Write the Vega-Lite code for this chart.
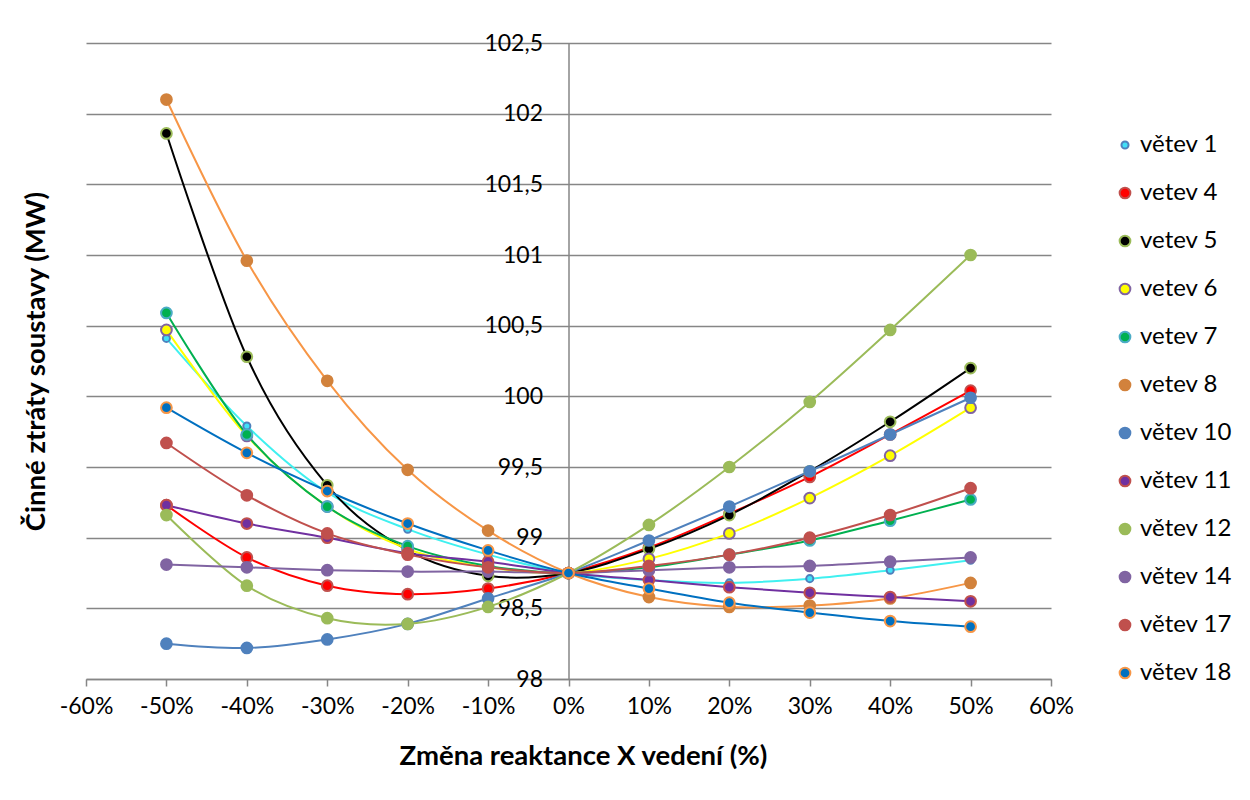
{
  "$schema": "https://vega.github.io/schema/vega-lite/v6.json",
  "width": 965,
  "height": 636,
  "autosize": {"type": "none"},
  "padding": {"left": 86, "top": 43, "right": 199, "bottom": 121},
  "background": "white",
  "config": {"view": {"stroke": null}, "font": "Lato",
    "legend": {"orient": "none", "legendX": 1027, "legendY": 90, "padding": 0, "title": null, "labelFontSize": 24, "labelColor": "black", "rowPadding": 24, "symbolStrokeWidth": 2, "labelOffset": 3}},
  "data": {"values": [
    {"s":"větev 1","x":-50,"y":100.41},{"s":"větev 1","x":-40,"y":99.79},{"s":"větev 1","x":-30,"y":99.32},{"s":"větev 1","x":-20,"y":99.06},{"s":"větev 1","x":-10,"y":98.88},{"s":"větev 1","x":0,"y":98.75},{"s":"větev 1","x":10,"y":98.70},{"s":"větev 1","x":20,"y":98.68},{"s":"větev 1","x":30,"y":98.71},{"s":"větev 1","x":40,"y":98.77},{"s":"větev 1","x":50,"y":98.84},
    {"s":"vetev 4","x":-50,"y":99.23},{"s":"vetev 4","x":-40,"y":98.86},{"s":"vetev 4","x":-30,"y":98.66},{"s":"vetev 4","x":-20,"y":98.60},{"s":"vetev 4","x":-10,"y":98.64},{"s":"vetev 4","x":0,"y":98.75},{"s":"vetev 4","x":10,"y":98.93},{"s":"vetev 4","x":20,"y":99.17},{"s":"vetev 4","x":30,"y":99.43},{"s":"vetev 4","x":40,"y":99.73},{"s":"vetev 4","x":50,"y":100.04},
    {"s":"vetev 5","x":-50,"y":101.86},{"s":"vetev 5","x":-40,"y":100.28},{"s":"vetev 5","x":-30,"y":99.37},{"s":"vetev 5","x":-20,"y":98.91},{"s":"vetev 5","x":-10,"y":98.73},{"s":"vetev 5","x":0,"y":98.75},{"s":"vetev 5","x":10,"y":98.92},{"s":"vetev 5","x":20,"y":99.16},{"s":"vetev 5","x":30,"y":99.47},{"s":"vetev 5","x":40,"y":99.82},{"s":"vetev 5","x":50,"y":100.20},
    {"s":"vetev 6","x":-50,"y":100.47},{"s":"vetev 6","x":-40,"y":99.72},{"s":"vetev 6","x":-30,"y":99.22},{"s":"vetev 6","x":-20,"y":98.92},{"s":"vetev 6","x":-10,"y":98.79},{"s":"vetev 6","x":0,"y":98.75},{"s":"vetev 6","x":10,"y":98.85},{"s":"vetev 6","x":20,"y":99.03},{"s":"vetev 6","x":30,"y":99.28},{"s":"vetev 6","x":40,"y":99.58},{"s":"vetev 6","x":50,"y":99.92},
    {"s":"vetev 7","x":-50,"y":100.59},{"s":"vetev 7","x":-40,"y":99.73},{"s":"vetev 7","x":-30,"y":99.22},{"s":"vetev 7","x":-20,"y":98.94},{"s":"vetev 7","x":-10,"y":98.80},{"s":"vetev 7","x":0,"y":98.75},{"s":"vetev 7","x":10,"y":98.79},{"s":"vetev 7","x":20,"y":98.88},{"s":"vetev 7","x":30,"y":98.98},{"s":"vetev 7","x":40,"y":99.12},{"s":"vetev 7","x":50,"y":99.27},
    {"s":"vetev 8","x":-50,"y":102.10},{"s":"vetev 8","x":-40,"y":100.96},{"s":"vetev 8","x":-30,"y":100.11},{"s":"vetev 8","x":-20,"y":99.48},{"s":"vetev 8","x":-10,"y":99.05},{"s":"vetev 8","x":0,"y":98.75},{"s":"vetev 8","x":10,"y":98.58},{"s":"vetev 8","x":20,"y":98.51},{"s":"vetev 8","x":30,"y":98.52},{"s":"vetev 8","x":40,"y":98.57},{"s":"vetev 8","x":50,"y":98.68},
    {"s":"větev 10","x":-50,"y":98.25},{"s":"větev 10","x":-40,"y":98.22},{"s":"větev 10","x":-30,"y":98.28},{"s":"větev 10","x":-20,"y":98.39},{"s":"větev 10","x":-10,"y":98.57},{"s":"větev 10","x":0,"y":98.75},{"s":"větev 10","x":10,"y":98.98},{"s":"větev 10","x":20,"y":99.22},{"s":"větev 10","x":30,"y":99.47},{"s":"větev 10","x":40,"y":99.73},{"s":"větev 10","x":50,"y":99.99},
    {"s":"větev 11","x":-50,"y":99.23},{"s":"větev 11","x":-40,"y":99.10},{"s":"větev 11","x":-30,"y":99.00},{"s":"větev 11","x":-20,"y":98.89},{"s":"větev 11","x":-10,"y":98.83},{"s":"větev 11","x":0,"y":98.75},{"s":"větev 11","x":10,"y":98.70},{"s":"větev 11","x":20,"y":98.65},{"s":"větev 11","x":30,"y":98.61},{"s":"větev 11","x":40,"y":98.58},{"s":"větev 11","x":50,"y":98.55},
    {"s":"větev 12","x":-50,"y":99.16},{"s":"větev 12","x":-40,"y":98.66},{"s":"větev 12","x":-30,"y":98.43},{"s":"větev 12","x":-20,"y":98.39},{"s":"větev 12","x":-10,"y":98.51},{"s":"větev 12","x":0,"y":98.75},{"s":"větev 12","x":10,"y":99.09},{"s":"větev 12","x":20,"y":99.50},{"s":"větev 12","x":30,"y":99.96},{"s":"větev 12","x":40,"y":100.47},{"s":"větev 12","x":50,"y":101.00},
    {"s":"větev 14","x":-50,"y":98.81},{"s":"větev 14","x":-40,"y":98.79},{"s":"větev 14","x":-30,"y":98.77},{"s":"větev 14","x":-20,"y":98.76},{"s":"větev 14","x":-10,"y":98.76},{"s":"větev 14","x":0,"y":98.75},{"s":"větev 14","x":10,"y":98.77},{"s":"větev 14","x":20,"y":98.79},{"s":"větev 14","x":30,"y":98.80},{"s":"větev 14","x":40,"y":98.83},{"s":"větev 14","x":50,"y":98.86},
    {"s":"větev 17","x":-50,"y":99.67},{"s":"větev 17","x":-40,"y":99.30},{"s":"větev 17","x":-30,"y":99.03},{"s":"větev 17","x":-20,"y":98.88},{"s":"větev 17","x":-10,"y":98.79},{"s":"větev 17","x":0,"y":98.75},{"s":"větev 17","x":10,"y":98.80},{"s":"větev 17","x":20,"y":98.88},{"s":"větev 17","x":30,"y":99.00},{"s":"větev 17","x":40,"y":99.16},{"s":"větev 17","x":50,"y":99.35},
    {"s":"větev 18","x":-50,"y":99.92},{"s":"větev 18","x":-40,"y":99.60},{"s":"větev 18","x":-30,"y":99.33},{"s":"větev 18","x":-20,"y":99.10},{"s":"větev 18","x":-10,"y":98.91},{"s":"větev 18","x":0,"y":98.75},{"s":"větev 18","x":10,"y":98.64},{"s":"větev 18","x":20,"y":98.54},{"s":"větev 18","x":30,"y":98.47},{"s":"větev 18","x":40,"y":98.41},{"s":"větev 18","x":50,"y":98.37}
  ]},
  "encoding": {
    "x": {"field": "x", "type": "quantitative",
      "scale": {"domain": [-60, 60], "nice": false, "zero": false},
      "axis": {"values": [-60,-50,-40,-30,-20,-10,0,10,20,30,40,50,60], "labelExpr": "datum.value + '%'",
        "title": "Změna reaktance X vedení (%)", "grid": false,
        "domainColor": "#868686", "domainWidth": 1.5, "tickColor": "#868686", "tickWidth": 1.5, "tickSize": 7,
        "labelFontSize": 23, "labelColor": "black", "labelPadding": 9, "labelFlush": false, "labelOverlap": false,
        "titleFontSize": 27.5, "titleFontWeight": "bold", "titleColor": "black", "titlePadding": 24, "titleX": 497}},
    "y": {"field": "y", "type": "quantitative",
      "scale": {"domain": [98, 102.5], "nice": false, "zero": false},
      "axis": {"values": [98,98.5,99,99.5,100,100.5,101,101.5,102,102.5],
        "labelExpr": "replace(format(datum.value, '.1~f'), '.', ',')",
        "offset": -482.5, "ticks": false,
        "domainColor": "#868686", "domainWidth": 1.5, "gridColor": "#868686", "gridWidth": 1.5,
        "labelFontSize": 23, "labelColor": "black", "labelPadding": 26, "labelFlush": false, "labelOverlap": false,
        "title": "Činné ztráty soustavy (MW)", "titleFontSize": 27.5, "titleFontWeight": "bold", "titleColor": "black",
        "titleX": -518}}
  },
  "layer": [
    {"mark": {"type": "line", "interpolate": "cardinal", "strokeWidth": 2},
     "encoding": {"color": {"field": "s", "type": "nominal", "legend": null,
       "sort": ["větev 1","vetev 4","vetev 5","vetev 6","vetev 7","vetev 8","větev 10","větev 11","větev 12","větev 14","větev 17","větev 18"],
       "scale": {"range": ["#40f0f0","#ff0000","#000000","#ffff00","#00b050","#f79646","#4f81bd","#7030a0","#9bbb59","#8064a2","#c0504d","#0070c0"]}}}},
    {"mark": {"type": "point", "shape": "circle", "filled": true, "opacity": 1, "strokeWidth": 2},
     "encoding": {
       "fill": {"field": "s", "type": "nominal",
         "scale": {"domain": ["větev 1","vetev 4","vetev 5","vetev 6","vetev 7","vetev 8","větev 10","větev 11","větev 12","větev 14","větev 17","větev 18"],
                   "range": ["#40e0f8","#ff0000","#000000","#ffff00","#00b050","#d2823c","#4f81bd","#7030a0","#9bbb59","#8064a2","#c0504d","#0070c0"]}},
       "stroke": {"field": "s", "type": "nominal",
         "scale": {"domain": ["větev 1","vetev 4","vetev 5","vetev 6","vetev 7","vetev 8","větev 10","větev 11","větev 12","větev 14","větev 17","větev 18"],
                   "range": ["#4f81bd","#c0504d","#9bbb59","#8064a2","#4bacc6","#d2823c","#4f81bd","#c0504d","#9bbb59","#8064a2","#c0504d","#f79646"]}},
       "size": {"field": "s", "type": "nominal",
         "scale": {"type": "ordinal", "domain": ["větev 1","vetev 4","vetev 5","vetev 6","vetev 7","vetev 8","větev 10","větev 11","větev 12","větev 14","větev 17","větev 18"],
                   "range": [50,115,115,115,115,115,115,115,115,115,115,115]}}
     }}
  ]
}
